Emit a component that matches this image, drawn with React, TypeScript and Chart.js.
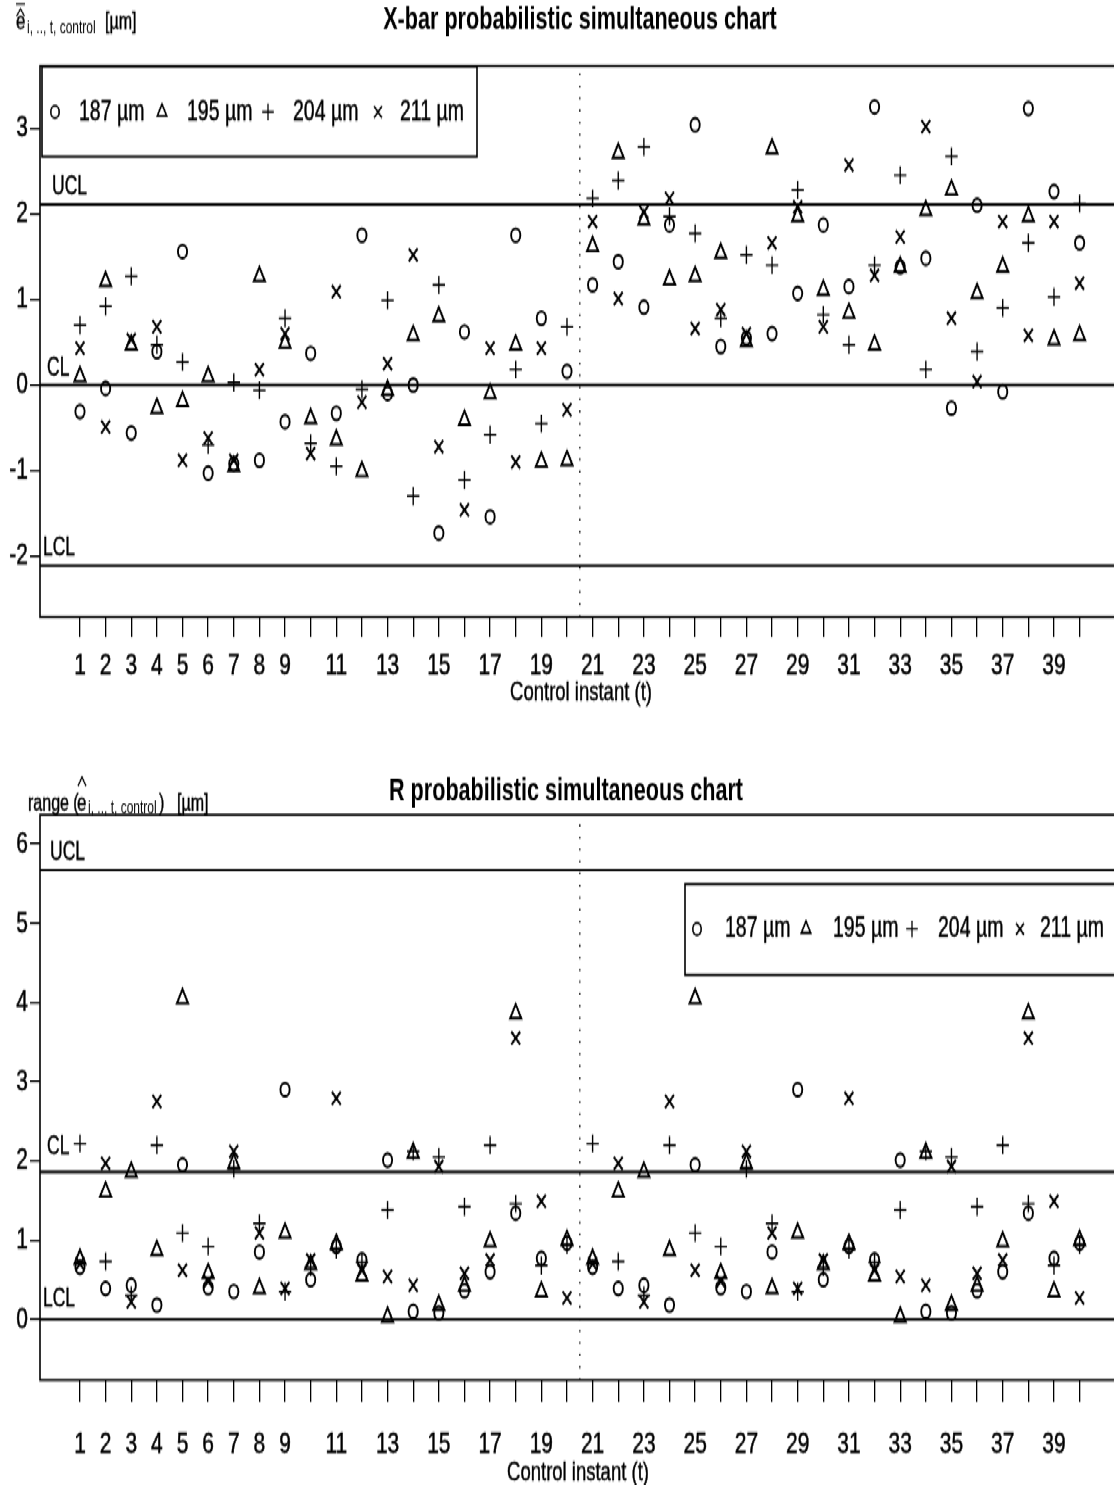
import { useEffect, useRef } from 'react';
import { Chart, registerables } from 'chart.js';

Chart.register(...registerables);

const FONT = '"Liberation Sans", Arial, Helvetica, sans-serif';
// The figure is drawn on a short canvas and stretched vertically, so text and symbols come out tall.
const STRETCH = 1.45;
const CANVAS_W = 1130;
const PANEL_H = 512;

// Control instants and the ones that carry a label
const instants = [1, 2, 3, 4, 5, 6, 7, 8, 9, 10, 11, 12, 13, 14, 15, 16, 17, 18, 19, 20,
  21, 22, 23, 24, 25, 26, 27, 28, 29, 30, 31, 32, 33, 34, 35, 36, 37, 38, 39, 40];
const instantLabels = [1, 2, 3, 4, 5, 6, 7, 8, 9, 11, 13, 15, 17, 19, 21, 23, 25, 27, 29, 31, 33, 35, 37, 39];
const diameters = ['187 µm', '195 µm', '204 µm', '211 µm'];

// X-bar chart: mean deviation per diameter [µm]
const xbar187 = [-0.31, -0.04, -0.56, 0.39, 1.56, -1.03, -0.92, -0.88, -0.43, 0.37, -0.33, 1.75, -0.10, 0.00, -1.73, 0.62, -1.54, 1.75, 0.78, 0.16,
  1.17, 1.44, 0.91, 1.87, 3.04, 0.45, 0.55, 0.60, 1.07, 1.87, 1.15, 3.25, 1.38, 1.48, -0.27, 2.10, -0.08, 3.23, 2.26, 1.66];
const xbar195 = [0.10, 1.21, 0.47, -0.27, -0.19, 0.10, -0.95, 1.27, 0.49, -0.39, -0.64, -1.01, -0.06, 0.58, 0.80, -0.41, -0.10, 0.47, -0.90, -0.88,
  1.62, 2.71, 1.93, 1.23, 1.27, 1.54, 0.51, 2.76, 1.97, 1.11, 0.84, 0.47, 1.38, 2.04, 2.28, 1.07, 1.38, 1.97, 0.53, 0.58];
const xbar204 = [0.70, 0.92, 1.27, 0.47, 0.27, -0.70, 0.03, -0.06, 0.78, -0.68, -0.95, -0.05, 0.99, -1.30, 1.17, -1.11, -0.58, 0.18, -0.45, 0.68,
  2.18, 2.39, 2.78, 1.97, 1.77, 0.78, 1.52, 1.40, 2.28, 0.82, 0.47, 1.40, 2.45, 0.18, 2.67, 0.39, 0.90, 1.66, 1.03, 2.12];
const xbar211 = [0.43, -0.49, 0.53, 0.68, -0.88, -0.62, -0.88, 0.18, 0.60, -0.80, 1.09, -0.20, 0.25, 1.52, -0.72, -1.46, 0.43, -0.90, 0.43, -0.29,
  1.91, 1.01, 2.02, 2.18, 0.66, 0.88, 0.60, 1.66, 2.08, 0.68, 2.57, 1.28, 1.73, 3.02, 0.78, 0.04, 1.91, 0.58, 1.91, 1.19];

// R chart: range of the deviations per diameter [µm]
const range187 = [0.66, 0.39, 0.43, 0.18, 1.95, 0.40, 0.35, 0.85, 2.90, 0.50, 0.92, 0.75, 2.01, 0.10, 0.08, 0.36, 0.60, 1.34, 0.77, 0.96,
  0.66, 0.39, 0.43, 0.18, 1.95, 0.40, 0.35, 0.85, 2.90, 0.50, 0.92, 0.75, 2.01, 0.10, 0.08, 0.36, 0.60, 1.34, 0.77, 0.96];
const range195 = [0.76, 1.61, 1.86, 0.87, 4.05, 0.58, 1.97, 0.39, 1.09, 0.69, 0.95, 0.55, 0.03, 2.10, 0.18, 0.42, 0.98, 3.86, 0.35, 1.00,
  0.76, 1.61, 1.86, 0.87, 4.05, 0.58, 1.97, 0.39, 1.09, 0.69, 0.95, 0.55, 0.03, 2.10, 0.18, 0.42, 0.98, 3.86, 0.35, 1.00];
const range204 = [2.22, 0.73, 0.30, 2.20, 1.09, 0.92, 1.90, 1.21, 0.35, 0.66, 0.88, 0.72, 1.38, 2.12, 2.05, 1.42, 2.20, 1.46, 0.68, 0.94,
  2.22, 0.73, 0.30, 2.20, 1.09, 0.92, 1.90, 1.21, 0.35, 0.66, 0.88, 0.72, 1.38, 2.12, 2.05, 1.42, 2.20, 1.46, 0.68, 0.94];
const range211 = [0.70, 1.97, 0.22, 2.75, 0.62, 0.48, 2.12, 1.09, 0.39, 0.75, 2.79, 0.62, 0.54, 0.43, 1.93, 0.58, 0.75, 3.55, 1.49, 0.27,
  0.70, 1.97, 0.22, 2.75, 0.62, 0.48, 2.12, 1.09, 0.39, 0.75, 2.79, 0.62, 0.54, 0.43, 1.93, 0.58, 0.75, 3.55, 1.49, 0.27];

// Control limits
const xbarUCL = 2.11;
const xbarCL = 0;
const xbarLCL = -2.11;
const rangeUCL = 5.67;
const rangeCL = 1.86;
const rangeLCL = 0;

const xbarTicks = [-2, -1, 0, 1, 2, 3];
const rangeTicks = [0, 1, 2, 3, 4, 5, 6];
const phaseBoundary = 20.5;
const xMin = -0.56;
const xMax = 41.56;

type Kind = 'circle' | 'triangle' | 'cross' | 'crossRot';
const SYMBOLS: { kind: Kind; radius: number; width: number }[] = [
  { kind: 'circle', radius: 4.6, width: 1.9 },
  { kind: 'triangle', radius: 6.4, width: 1.9 },
  { kind: 'cross', radius: 6.2, width: 1.4 },
  { kind: 'crossRot', radius: 6.3, width: 1.9 },
];

function drawSymbol(ctx: CanvasRenderingContext2D, kind: Kind, x: number, y: number, r: number) {
  ctx.beginPath();
  if (kind === 'circle') {
    ctx.arc(x, y, r, 0, Math.PI * 2);
  } else if (kind === 'triangle') {
    ctx.moveTo(x, y - r);
    ctx.lineTo(x + r * 0.866, y + r * 0.5);
    ctx.lineTo(x - r * 0.866, y + r * 0.5);
    ctx.closePath();
  } else if (kind === 'cross') {
    ctx.moveTo(x - r, y);
    ctx.lineTo(x + r, y);
    ctx.moveTo(x, y - r);
    ctx.lineTo(x, y + r);
  } else {
    const d = r * 0.707;
    ctx.moveTo(x - d, y - d);
    ctx.lineTo(x + d, y + d);
    ctx.moveTo(x + d, y - d);
    ctx.lineTo(x - d, y + d);
  }
  ctx.stroke();
}

// Text with a faint outline so it carries the same weight as the axis labels
function heavyText(ctx: CanvasRenderingContext2D, s: string, x: number, y: number) {
  ctx.fillText(s, x, y);
  ctx.lineWidth = 0.35;
  ctx.strokeText(s, x, y);
}

interface LimitLabel { text: string; value: number; x: number; rise: number }

interface PanelSpec {
  key: string;
  offset: number;
  plotTop: number;
  plotBottom: number;
  plotRight: number;
  yMin: number;
  yMax: number;
  yTicks: number[];
  series: number[][];
  limits: LimitLabel[];
  title: string;
  titleX: number;
  titleBase: number;
  xTitleX: number;
  xTitleBase: number;
  xTickLen: number;
  xTickPad: number;
  legend: { left: number; top: number; right: number; bottom: number; base: number; marks: number[]; texts: number[] };
  yTitle: (ctx: CanvasRenderingContext2D, vy: (p: number) => number) => void;
}

function hat(ctx: CanvasRenderingContext2D, x: number, yTop: number, yBot: number, w: number) {
  ctx.beginPath();
  ctx.moveTo(x - w, yBot);
  ctx.lineTo(x, yTop);
  ctx.lineTo(x + w, yBot);
  ctx.stroke();
}

const xbarPanel: PanelSpec = {
  key: 'xbar',
  offset: 0,
  plotTop: 66,
  plotBottom: 617,
  plotRight: 1119.6,
  yMin: -2.71,
  yMax: 3.727,
  yTicks: xbarTicks,
  series: [xbar187, xbar195, xbar204, xbar211],
  limits: [
    { text: 'UCL', value: xbarUCL, x: 52, rise: 10 },
    { text: 'CL', value: xbarCL, x: 47, rise: 10 },
    { text: 'LCL', value: xbarLCL, x: 43, rise: 11 },
  ],
  title: 'X-bar probabilistic simultaneous chart',
  titleX: 580,
  titleBase: 29,
  xTitleX: 581,
  xTitleBase: 701,
  xTickLen: 20,
  xTickPad: 7,
  legend: { left: 42, top: 66.7, right: 477, bottom: 156.7, base: 120, marks: [55, 162, 268, 378], texts: [79, 187, 293, 400] },
  yTitle: (ctx, vy) => {
    ctx.font = `17px ${FONT}`;
    ctx.textAlign = 'left';
    heavyText(ctx, 'e', 16, vy(29));
    ctx.lineWidth = 1.2;
    hat(ctx, 20.5, vy(9), vy(16), 4);
    ctx.beginPath();
    ctx.moveTo(16, vy(4));
    ctx.lineTo(25, vy(4));
    ctx.stroke();
    ctx.font = `12px ${FONT}`;
    ctx.fillText('i, .., t, control', 27, vy(33));
    ctx.font = `16px ${FONT}`;
    heavyText(ctx, '[µm]', 105, vy(29));
  },
};

const rangePanel: PanelSpec = {
  key: 'range',
  offset: PANEL_H * STRETCH,
  plotTop: 815,
  plotBottom: 1380,
  plotRight: 1119.6,
  yMin: -0.766,
  yMax: 6.367,
  yTicks: rangeTicks,
  series: [range187, range195, range204, range211],
  limits: [
    { text: 'UCL', value: rangeUCL, x: 50, rise: 10 },
    { text: 'CL', value: rangeCL, x: 47, rise: 18 },
    { text: 'LCL', value: rangeLCL, x: 43, rise: 13 },
  ],
  title: 'R probabilistic simultaneous chart',
  titleX: 566,
  titleBase: 801,
  xTitleX: 578,
  xTitleBase: 1481,
  xTickLen: 22,
  xTickPad: 17,
  legend: { left: 685, top: 884, right: 1140, bottom: 975, base: 937, marks: [697, 806, 912, 1020], texts: [725, 833, 938, 1040] },
  yTitle: (ctx, vy) => {
    ctx.font = `16px ${FONT}`;
    ctx.textAlign = 'left';
    heavyText(ctx, 'range (', 28, vy(810));
    ctx.font = `17px ${FONT}`;
    heavyText(ctx, 'e', 77, vy(810));
    ctx.lineWidth = 1.2;
    hat(ctx, 82, vy(777), vy(786), 4);
    ctx.font = `12px ${FONT}`;
    ctx.fillText('i, .., t, control', 88, vy(814));
    ctx.font = `16px ${FONT}`;
    heavyText(ctx, ')', 159, vy(810));
    heavyText(ctx, '[µm]', 177, vy(810));
  },
};

function buildChart(canvas: HTMLCanvasElement, p: PanelSpec) {
  const vy = (page: number) => (page - p.offset) / STRETCH;
  const plotTopV = vy(p.plotTop);
  const xAxisH = PANEL_H - vy(p.plotBottom);

  const pointSets = p.series.map((vals, i) => ({
    type: 'scatter' as const,
    label: diameters[i],
    data: instants.map((t, k) => ({ x: t, y: vals[k] })),
    pointStyle: SYMBOLS[i].kind,
    pointRadius: SYMBOLS[i].radius,
    pointBorderWidth: SYMBOLS[i].width,
    pointBorderColor: '#000',
    pointBackgroundColor: 'rgba(0,0,0,0)',
    showLine: false,
  }));

  const limitSets = p.limits.map((l) => ({
    type: 'line' as const,
    label: l.text,
    data: [{ x: xMin, y: l.value }, { x: xMax, y: l.value }],
    borderColor: '#000',
    borderWidth: 1.9,
    pointRadius: 0,
    fill: false,
  }));

  const boundary = {
    type: 'line' as const,
    label: 'phase',
    data: [{ x: phaseBoundary, y: p.yMin }, { x: phaseBoundary, y: p.yMax }],
    borderColor: '#000',
    borderWidth: 1.4,
    borderDash: [1.3, 7],
    pointRadius: 0,
    fill: false,
  };

  const decor = {
    id: 'decor-' + p.key,
    afterDraw(chart: Chart) {
      const { ctx, chartArea: a } = chart;
      const yScale = chart.scales.y;
      ctx.save();
      ctx.strokeStyle = '#000';
      ctx.fillStyle = '#000';
      ctx.lineWidth = 1.6;
      ctx.strokeRect(a.left, a.top, a.right - a.left, a.bottom - a.top);

      ctx.textBaseline = 'alphabetic';
      ctx.textAlign = 'left';
      ctx.font = `17.5px ${FONT}`;
      p.limits.forEach((l) => {
        heavyText(ctx, l.text, l.x, yScale.getPixelForValue(l.value) - l.rise / STRETCH);
      });

      ctx.textAlign = 'center';
      ctx.font = `bold 21.6px ${FONT}`;
      ctx.fillText(p.title, p.titleX, vy(p.titleBase));
      ctx.font = `18.5px ${FONT}`;
      heavyText(ctx, 'Control instant (t)', p.xTitleX, vy(p.xTitleBase));

      p.yTitle(ctx, vy);

      const lg = p.legend;
      ctx.fillStyle = '#fff';
      ctx.fillRect(lg.left, vy(lg.top), lg.right - lg.left, vy(lg.bottom) - vy(lg.top));
      ctx.lineWidth = 1.6;
      ctx.strokeRect(lg.left, vy(lg.top), lg.right - lg.left, vy(lg.bottom) - vy(lg.top));
      ctx.fillStyle = '#000';
      ctx.textAlign = 'left';
      ctx.font = `19.5px ${FONT}`;
      const midY = vy(lg.base) - 5.5;
      const legendR = [4.2, 5.4, 5.8, 5.6];
      diameters.forEach((d, i) => {
        ctx.lineWidth = SYMBOLS[i].kind === 'cross' ? 1.3 : 1.6;
        drawSymbol(ctx, SYMBOLS[i].kind, lg.marks[i], midY, legendR[i]);
        heavyText(ctx, d, lg.texts[i], vy(lg.base));
      });
      ctx.restore();
    },
  };

  return new Chart(canvas, {
    type: 'scatter',
    data: { datasets: [...pointSets, ...limitSets, boundary] as any },
    options: {
      responsive: false,
      maintainAspectRatio: false,
      animation: false,
      devicePixelRatio: 1,
      events: [],
      layout: { autoPadding: false, padding: { top: plotTopV, left: 0, right: CANVAS_W - p.plotRight, bottom: 0 } },
      plugins: { legend: { display: false }, tooltip: { enabled: false }, title: { display: false } },
      scales: {
        x: {
          type: 'linear',
          min: xMin,
          max: xMax,
          afterBuildTicks: (s: any) => { s.ticks = instants.map((v) => ({ value: v })); },
          afterFit: (s: any) => { s.height = xAxisH; },
          ticks: {
            autoSkip: false,
            maxRotation: 0,
            minRotation: 0,
            padding: p.xTickPad,
            color: '#000',
            textStrokeColor: '#000',
            textStrokeWidth: 0.4,
            font: { family: FONT, size: 21 },
            callback: (v: any) => (instantLabels.includes(Number(v)) ? String(v) : ''),
          },
          grid: { drawOnChartArea: false, drawTicks: true, tickLength: p.xTickLen / STRETCH, color: '#000', lineWidth: 1.3 },
          border: { display: false },
        },
        y: {
          type: 'linear',
          min: p.yMin,
          max: p.yMax,
          afterBuildTicks: (s: any) => { s.ticks = p.yTicks.map((v) => ({ value: v })); },
          afterFit: (s: any) => { s.width = 40; },
          ticks: {
            padding: 2,
            color: '#000',
            textStrokeColor: '#000',
            textStrokeWidth: 0.4,
            font: { family: FONT, size: 21 },
            callback: (v: any) => String(v),
          },
          grid: { drawOnChartArea: false, drawTicks: true, tickLength: 10, color: '#000', lineWidth: 1.3 },
          border: { display: false },
        },
      },
    } as any,
    plugins: [decor],
  });
}

export default function App() {
  const topRef = useRef<HTMLCanvasElement>(null);
  const bottomRef = useRef<HTMLCanvasElement>(null);

  useEffect(() => {
    const charts: Chart[] = [];
    if (topRef.current) charts.push(buildChart(topRef.current, xbarPanel));
    if (bottomRef.current) charts.push(buildChart(bottomRef.current, rangePanel));
    return () => charts.forEach((c) => c.destroy());
  }, []);

  return (
    <div style={{ position: 'absolute', left: 0, top: 0, width: 1114, height: 1485, overflow: 'hidden', background: '#fff' }}>
      <div style={{ width: CANVAS_W, transform: `scaleY(${STRETCH})`, transformOrigin: '0 0' }}>
        <canvas ref={topRef} width={CANVAS_W} height={PANEL_H} style={{ display: 'block' }} />
        <canvas ref={bottomRef} width={CANVAS_W} height={PANEL_H} style={{ display: 'block' }} />
      </div>
    </div>
  );
}
